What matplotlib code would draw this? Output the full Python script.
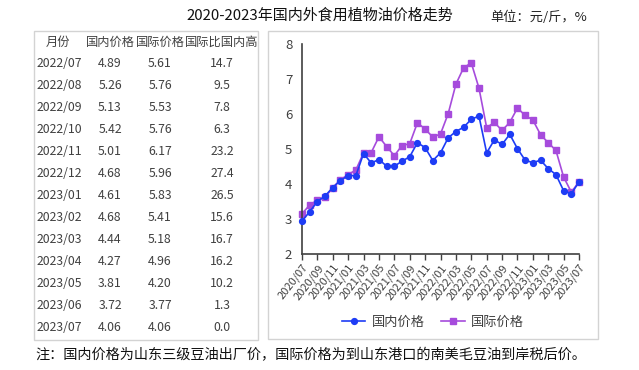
import matplotlib
matplotlib.use("Agg")
import matplotlib.pyplot as plt
from matplotlib.patches import Rectangle
import numpy as np

plt.rcParams['font.family'] = ['Noto Sans CJK SC', 'DejaVu Sans']

# ---- data ----
months = ["2020/07", "2020/08", "2020/09", "2020/10", "2020/11", "2020/12",
          "2021/01", "2021/02", "2021/03", "2021/04", "2021/05", "2021/06",
          "2021/07", "2021/08", "2021/09", "2021/10", "2021/11", "2021/12",
          "2022/01", "2022/02", "2022/03", "2022/04", "2022/05", "2022/06",
          "2022/07", "2022/08", "2022/09", "2022/10", "2022/11", "2022/12",
          "2023/01", "2023/02", "2023/03", "2023/04", "2023/05", "2023/06",
          "2023/07"]
domestic = [2.94, 3.21, 3.50, 3.66, 3.90, 4.10, 4.24, 4.24, 4.87, 4.60,
            4.70, 4.51, 4.51, 4.65, 4.78, 5.18, 5.04, 4.67, 4.89, 5.32,
            5.50, 5.62, 5.85, 5.94,
            4.89, 5.26, 5.13, 5.42, 5.01, 4.68, 4.61, 4.68, 4.44, 4.27,
            3.81, 3.72, 4.06]
international = [3.15, 3.40, 3.54, 3.62, 3.90, 4.12, 4.27, 4.40, 4.89, 4.90,
                 5.35, 5.07, 4.81, 5.10, 5.15, 5.75, 5.57, 5.34, 5.43, 6.01,
                 6.85, 7.32, 7.46, 6.74,
                 5.61, 5.76, 5.53, 5.76, 6.17, 5.96, 5.83, 5.41, 5.18, 4.96,
                 4.20, 3.77, 4.06]

table_header = ["月份", "国内价格", "国际价格", "国际比国内高"]
table_months = ["2022/07", "2022/08", "2022/09", "2022/10", "2022/11", "2022/12",
                "2023/01", "2023/02", "2023/03", "2023/04", "2023/05", "2023/06",
                "2023/07"]
table_dom = ["4.89", "5.26", "5.13", "5.42", "5.01", "4.68", "4.61", "4.68",
             "4.44", "4.27", "3.81", "3.72", "4.06"]
table_int = ["5.61", "5.76", "5.53", "5.76", "6.17", "5.96", "5.83", "5.41",
             "5.18", "4.96", "4.20", "3.77", "4.06"]
table_diff = ["14.7", "9.5", "7.8", "6.3", "23.2", "27.4", "26.5", "15.6",
              "16.7", "16.2", "10.2", "1.3", "0.0"]

title = "2020-2023年国内外食用植物油价格走势"
unit = "单位：元/斤，%"
note = "注：国内价格为山东三级豆油出厂价，国际价格为到山东港口的南美毛豆油到岸税后价。"
series_names = ["国内价格", "国际价格"]

W, H = 639, 370
fig = plt.figure(figsize=(W / 100, H / 100), dpi=100)

def fx(x):
    return x / W

def fy(y):
    return 1 - y / H

txt_color = "#404040"
border = "#D3D3D3"

# boxes
fig.patches.append(Rectangle((fx(34), fy(340)), fx(258) - fx(34), fy(31) - fy(340),
                             transform=fig.transFigure, fill=False, edgecolor=border, lw=1))
fig.patches.append(Rectangle((fx(268), fy(339)), fx(598) - fx(268), fy(31) - fy(339),
                             transform=fig.transFigure, fill=False, edgecolor=border, lw=1))

# title and unit
fig.text(fx(320), fy(15), title, ha="center", va="center", fontsize=10.8, color="#111111")
fig.text(fx(490), fy(17), unit, ha="left", va="center", fontsize=9.5, color="#222222")

# table
fs_t = 8.8
hy = 42
fig.text(fx(58), fy(hy), table_header[0], ha="center", va="center", fontsize=fs_t, color=txt_color)
fig.text(fx(110), fy(hy), table_header[1], ha="center", va="center", fontsize=fs_t, color=txt_color)
fig.text(fx(160), fy(hy), table_header[2], ha="center", va="center", fontsize=fs_t, color=txt_color)
fig.text(fx(222), fy(hy), table_header[3], ha="center", va="center", fontsize=fs_t, color=txt_color)
for i in range(len(table_months)):
    y = 63.5 + 22 * i
    fig.text(fx(37), fy(y), table_months[i], ha="left", va="center", fontsize=fs_t, color=txt_color)
    fig.text(fx(110), fy(y), table_dom[i], ha="center", va="center", fontsize=fs_t, color=txt_color)
    fig.text(fx(160), fy(y), table_int[i], ha="center", va="center", fontsize=fs_t, color=txt_color)
    fig.text(fx(222), fy(y), table_diff[i], ha="center", va="center", fontsize=fs_t, color=txt_color)

# chart
ax = fig.add_axes([fx(302), fy(254), fx(579) - fx(302), fy(44) - fy(254)])
x = np.arange(len(months))
blue = "#1E3CF5"
purple = "#A64BDC"
ax.plot(x, international, color=purple, lw=1.2, marker="s", markersize=4.2,
        label=series_names[1], zorder=2, clip_on=False)
ax.plot(x, domestic, color=blue, lw=1.2, marker="o", markersize=4.2,
        label=series_names[0], zorder=3, clip_on=False)
ax.set_xlim(0, len(months) - 1)
ax.set_ylim(2, 8)
ax.set_yticks(range(2, 9))
ax.tick_params(axis="y", length=0, pad=7, labelsize=9.5, labelcolor="#404040")
ax.set_xticks(x[::2])
ax.set_xticklabels(months[::2], rotation=52, ha="right", rotation_mode="anchor",
                   fontsize=8)
ax.tick_params(axis="x", length=4, width=1, color="#404040", labelcolor="#404040", pad=2)
for s in ["top", "right"]:
    ax.spines[s].set_visible(False)
for s in ["left", "bottom"]:
    ax.spines[s].set_color("#404040")
    ax.spines[s].set_linewidth(1.2)
ax.patch.set_alpha(0)

h, l = ax.get_legend_handles_labels()
fig.legend([h[1], h[0]], [l[1], l[0]], loc="center", bbox_to_anchor=(fx(433), fy(322)),
           ncol=2, frameon=False, fontsize=9.5, handlelength=1.8, columnspacing=1.2,
           handletextpad=0.5, labelcolor="#404040")

fig.text(fx(35), fy(355), note, ha="left", va="center", fontsize=10.2, color="#111111")

fig.savefig("out.png", dpi=100)
